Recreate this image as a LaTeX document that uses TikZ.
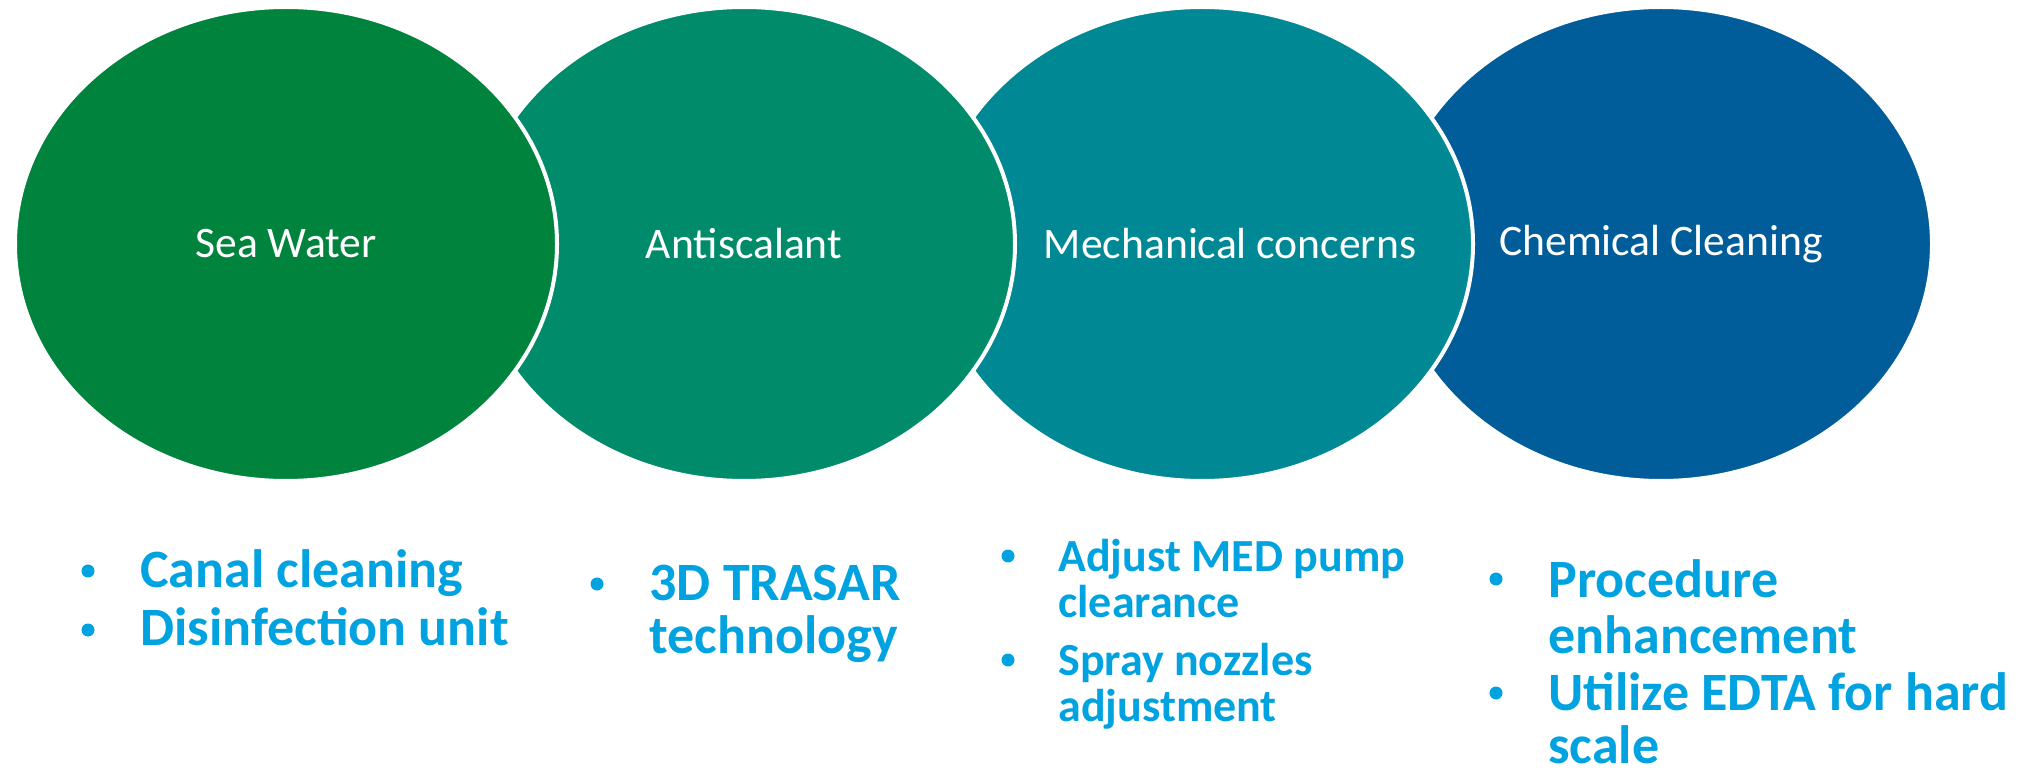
\documentclass[tikz,border=0pt]{standalone}
\usepackage{fontspec}
\setmainfont{Carlito}
\usetikzlibrary{shapes.geometric,positioning}
\definecolor{seagreen}{RGB}{0,132,61}
\definecolor{jade}{RGB}{0,140,106}
\definecolor{teal2}{RGB}{0,136,148}
\definecolor{deepblue}{RGB}{0,93,153}
\definecolor{cyanblue}{RGB}{0,163,224}
\tikzstyle{bubble} = [ellipse, draw=white, line width=2pt, minimum width=271pt, minimum height=237pt, text=white, font=\fontsize{21.8}{25}\selectfont]
\tikzstyle{point} = [draw=none, fill=none, text=cyanblue, font=\bfseries\fontsize{27}{29}\selectfont, anchor=base west, inner sep=0pt]
\tikzstyle{pointsm} = [point, font=\bfseries\fontsize{23}{25}\selectfont]
\tikzstyle{dot} = [circle, fill=cyanblue, inner sep=0pt, minimum size=6.5pt]

\begin{document}
\begin{tikzpicture}[x=0.5pt, y=-0.5pt]
\useasboundingbox (0,0) rectangle (2036,775);

% ellipses (right to left, so the left one lies on top) =============================
\node[bubble, fill=deepblue] (cc) at (1661,244) {Chemical Cleaning};
\node[bubble, fill=teal2] (mc) at (1202,244) {};
\node[bubble, fill=jade] (as) at (744,244) {Antiscalant};
\node[bubble, fill=seagreen] (sw) at (286,244) {Sea Water};
\node[text=white, font=\fontsize{21.8}{25}\selectfont] (mct) at (1230,244) {Mechanical concerns};

% lists =============================
\node[point] (ca) at (140,587) {Canal cleaning};
\node[point] (di) at (140,645) {Disinfection unit};
\node[point] (tr) at (649,600) {3D TRASAR};
\node[point] (te) at (649,653) {technology};
\node[pointsm] (ad) at (1058,571) {Adjust MED pump};
\node[pointsm] (cl) at (1058,617) {clearance};
\node[pointsm] (sp) at (1058,675) {Spray nozzles};
\node[pointsm] (aj) at (1058,721) {adjustment};
\node[point] (pr) at (1548,597) {Procedure};
\node[point] (en) at (1548,653) {enhancement};
\node[point] (ut) at (1548,710) {Utilize EDTA for hard};
\node[point] (sc) at (1548,763) {scale};

% bullets =============================
\node[dot] (bca) at (88,571) {};
\node[dot] (bdi) at (88,630) {};
\node[dot] (btr) at (597,584) {};
\node[dot] (bad) at (1008,556) {};
\node[dot] (bsp) at (1008,660) {};
\node[dot] (bpr) at (1496,579) {};
\node[dot] (but) at (1496,693) {};

\end{tikzpicture}
\end{document}
